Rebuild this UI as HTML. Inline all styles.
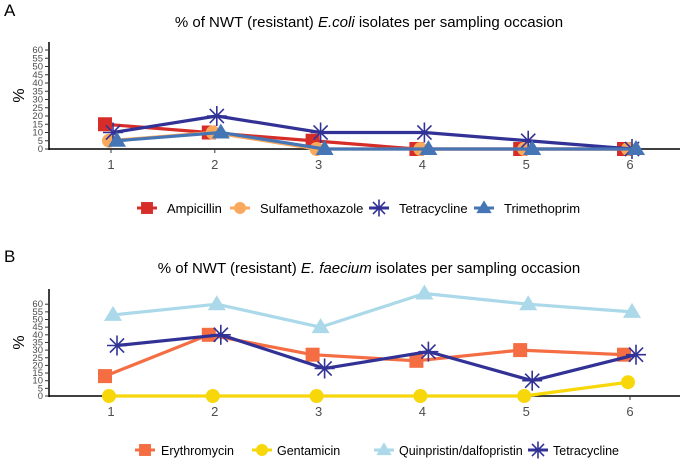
<!DOCTYPE html>
<html><head><meta charset="utf-8"><style>
body{margin:0;background:#fff;font-family:"Liberation Sans",Arial,sans-serif}
svg text{font-family:"Liberation Sans",Arial,sans-serif}
</style></head><body>
<svg id="c" width="690" height="462" xmlns="http://www.w3.org/2000/svg"></svg>
<script>
const occasions=[1,2,3,4,5,6];
const yTicks=[0,5,10,15,20,25,30,35,40,45,50,55,60];
const ampicillin=[15,10,5,0,0,0];
const sulfamethoxazole=[5,10,0,0,0,0];
const tetracyclineA=[10,20,10,10,5,0];
const trimethoprim=[5,10,0,0,0,0];
const erythromycin=[13,40,27,23,30,27];
const gentamicin=[0,0,0,0,0,9];
const quinupristin=[53,60,45,67,60,55];
const tetracyclineB=[33,40,18,29,10,27];
const NS="http://www.w3.org/2000/svg";
const svg=document.getElementById('c');
function mk(t,a,p){const e=document.createElementNS(NS,t);for(const k in a)e.setAttribute(k,a[k]);(p||svg).appendChild(e);return e;}
function xS(v){return 111+(v-1)*103.8;}
function marker(shape,x,y,col,g,s){
  s=s||1;
  let e;
  if(shape==='sq')e=mk('rect',{x:x-7*s,y:y-7*s,width:14*s,height:14*s,fill:col},g);
  else if(shape==='ci')e=mk('circle',{cx:x,cy:y,r:7*s,fill:col},g);
  else if(shape==='tr')e=mk('polygon',{points:`${x},${y-9*s} ${x+9*s},${y+6*s} ${x-9*s},${y+6*s}`,fill:col},g);
  else{e=mk('g',{},g);for(let a=0;a<4;a++){const r=a*Math.PI/4,dx=10*s*Math.cos(r),dy=10*s*Math.sin(r);mk('line',{x1:x-dx,y1:y-dy,x2:x+dx,y2:y+dy,stroke:col,'stroke-width':1.6},e);}}
  return e;
}
function panel(p){
  mk('text',{x:4,y:p.labY,'font-size':17}).textContent=p.lab;
  const t=mk('text',{x:369,y:p.titleY,'font-size':15,'text-anchor':'middle'});
  
  t.innerHTML=p.title;
  const yS=v=>p.y0-v*p.k;
  mk('line',{x1:49,y1:p.top,x2:49,y2:p.y0+1,stroke:'#000','stroke-width':1.5});
  mk('line',{x1:48,y1:p.y0,x2:680,y2:p.y0,stroke:'#000','stroke-width':1.5});
  yTicks.forEach(v=>{mk('line',{x1:45,y1:yS(v),x2:49,y2:yS(v),stroke:'#333'});
    const l=mk('text',{x:43,y:yS(v)+3,'font-size':9.5,fill:'#4d4d4d','text-anchor':'end'});l.textContent=v;});
  occasions.forEach(o=>{mk('line',{x1:xS(o),y1:p.y0,x2:xS(o),y2:p.y0+4,stroke:'#333'});
    const l=mk('text',{x:xS(o),y:p.y0+20,'font-size':13,fill:'#4d4d4d','text-anchor':'middle'});l.textContent=o;});
  const yl=mk('text',{x:24,y:(p.y0+p.top)/2,'font-size':16,'text-anchor':'middle',transform:`rotate(-90 24 ${(p.y0+p.top)/2})`});
  yl.textContent='%';
  p.series.forEach((s,i)=>{
    const g=mk('g',{});
    const pts=s.vals.map((v,j)=>[xS(occasions[j])+s.dx,yS(v)]);
    mk('polyline',{points:pts.map(q=>q.join(',')).join(' '),fill:'none',stroke:s.col,'stroke-width':3.2,'stroke-linejoin':'round'},g);
    pts.forEach(q=>marker(s.sh,q[0],q[1],s.col,g));
  });
  p.series.forEach((s,i)=>{
    const g=mk('g',{});
    mk('line',{x1:s.lx-10,y1:p.legY,x2:s.lx+10,y2:p.legY,stroke:s.col,'stroke-width':3},g);
    marker(s.sh,s.lx,p.legY,s.col,g,0.85);
    const l=mk('text',{x:s.tx,y:p.legY+5,'font-size':p.lf},g);l.textContent=s.name;
  });
}
panel({lab:'A',labY:16,titleY:27,lf:13,title:'% of NWT (resistant) <tspan font-style="italic">E.coli</tspan> isolates per sampling occasion',
  top:42,y0:149,k:1.65,legY:208,series:[
  {name:'Ampicillin',vals:ampicillin,col:'#d62d28',sh:'sq',dx:-6,lx:147,tx:167},
  {name:'Sulfamethoxazole',vals:sulfamethoxazole,col:'#f9a95c',sh:'ci',dx:-2,lx:240,tx:260},
  {name:'Tetracycline',vals:tetracyclineA,col:'#323296',sh:'st',dx:2,lx:379,tx:399},
  {name:'Trimethoprim',vals:trimethoprim,col:'#4575b4',sh:'tr',dx:6,lx:484,tx:504}]});
panel({lab:'B',labY:262,titleY:273,lf:12.5,title:'% of NWT (resistant) <tspan font-style="italic">E. faecium</tspan> isolates per sampling occasion',
  top:289,y0:396,k:1.53,legY:450,series:[
  {name:'Erythromycin',vals:erythromycin,col:'#f46d43',sh:'sq',dx:-6,lx:145,tx:161},
  {name:'Gentamicin',vals:gentamicin,col:'#f7d70a',sh:'ci',dx:-2,lx:262,tx:277},
  {name:'Quinpristin/dalfopristin',vals:quinupristin,col:'#abd9e9',sh:'tr',dx:2,lx:384,tx:399},
  {name:'Tetracycline',vals:tetracyclineB,col:'#323296',sh:'st',dx:6,lx:538,tx:553}]});
</script>
</body></html>
